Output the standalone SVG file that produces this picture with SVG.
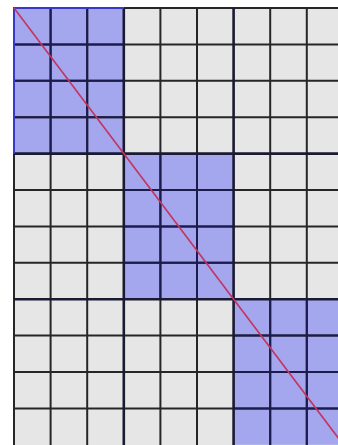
<svg xmlns="http://www.w3.org/2000/svg" width="338" height="445" viewBox="0 0 338 445">
<style>
.cell{fill:#e6e6e6}
.blk{fill:#a4a7ee}
.g{stroke:#262626;stroke-width:2;fill:none}
.gb{stroke:#1c1c4c;stroke-width:2;fill:none}
.thick{stroke:#1a1a33;stroke-width:2.6;fill:none}
.edge{stroke:#3838cc;stroke-width:2;fill:none}
.diag{stroke:#c4345e;stroke-width:1.6;fill:none}
</style>
<rect width="338" height="445" fill="#ffffff"/>
<g id="grid">
<rect class="cell" x="14" y="8" width="324" height="437"/>
<rect class="blk" x="14" y="8" width="109.8" height="145.6"/>
<rect class="blk" x="123.8" y="153.6" width="109.8" height="145.6"/>
<rect class="blk" x="233.6" y="299.2" width="109.8" height="145.6"/>
<path class="g" d="M14 8V445M50.6 8V445M87.2 8V445M160.4 8V445M197 8V445M270.2 8V445M306.8 8V445M14 44.4H338M14 80.8H338M14 117.2H338M14 190H338M14 226.4H338M14 262.8H338M14 335.6H338M14 372H338M14 408.4H338M123.8 8H338"/>
<path class="gb" d="M50.6 8V153.6M87.2 8V153.6M14 44.4H123.8M14 80.8H123.8M14 117.2H123.8M160.4 153.6V299.2M197 153.6V299.2M123.8 190H233.6M123.8 226.4H233.6M123.8 262.8H233.6M270.2 299.2V445M306.8 299.2V445M233.6 335.6H338M233.6 372H338M233.6 408.4H338"/>
<path class="thick" d="M123.8 8V445M233.6 8V445M14 153.6H338M14 299.2H338"/>
<path class="edge" d="M14 153.6V8H123.8"/>
<path class="diag" d="M14 8L343.4 444.8"/>
</g>
</svg>
